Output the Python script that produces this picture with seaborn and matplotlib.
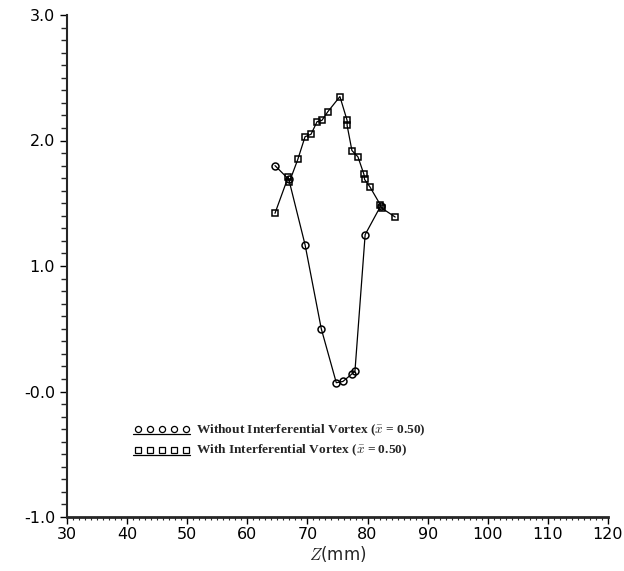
import numpy as np
import pandas as pd
import matplotlib
matplotlib.use("Agg")
import matplotlib.pyplot as plt
from matplotlib.lines import Line2D
from matplotlib.legend_handler import HandlerLine2D
import seaborn as sns

# --- data ---
z_without = [64.6, 66.9, 69.6, 72.3, 74.8, 75.9, 77.4, 77.9, 79.6, 82.2]
v_without = [1.80, 1.69, 1.17, 0.50, 0.07, 0.08, 0.14, 0.16, 1.25, 1.48]

z_with = [64.6, 66.8, 67.0, 68.4, 69.6, 70.6, 71.6, 72.4, 73.4, 75.4,
          76.6, 76.6, 77.4, 78.4, 79.4, 79.5, 80.4, 82.1, 82.4, 84.6]
v_with = [1.42, 1.71, 1.67, 1.85, 2.03, 2.05, 2.15, 2.16, 2.23, 2.35,
          2.16, 2.12, 1.92, 1.87, 1.73, 1.69, 1.63, 1.49, 1.46, 1.39]

label_without = r"Without Interferential Vortex ($\bar{x}$ = 0.50)"
label_with = r"With Interferential Vortex ($\bar{x}$ = 0.50)"

x_ticks = [30, 40, 50, 60, 70, 80, 90, 100, 110, 120]
y_ticks = [-1.0, 0.0, 1.0, 2.0, 3.0]
y_ticklabels = ["-1.0", "-0.0", "1.0", "2.0", "3.0"]

sns.set_style("ticks")
plt.rcParams["font.family"] = ["DejaVu Sans"]
plt.rcParams["mathtext.fontset"] = "cm"

fig = plt.figure(figsize=(6.24, 5.71), dpi=100)
ax = fig.add_axes([67 / 624, 1 - 517 / 571, 541 / 624, 502 / 571])

df_wo = pd.DataFrame({"z": z_without, "v": v_without})
df_w = pd.DataFrame({"z": z_with, "v": v_with})

common = dict(ax=ax, sort=False, estimator=None, color="black", linewidth=0.9,
              markersize=5, markerfacecolor="none", markeredgecolor="black",
              markeredgewidth=1.1)
sns.lineplot(data=df_wo, x="z", y="v", marker="o", **common)
sns.lineplot(data=df_w, x="z", y="v", marker="s", **common)

ax.set_xlim(30, 120)
ax.set_ylim(-1.0, 3.0)
ax.set_xticks(x_ticks)
ax.set_xticklabels([str(t) for t in x_ticks])
ax.set_yticks(y_ticks)
ax.set_yticklabels(y_ticklabels)
ax.set_xticks(np.arange(30, 121, 1), minor=True)
ax.set_yticks(np.arange(-1.0, 3.001, 0.1), minor=True)

for s in ["top", "right"]:
    ax.spines[s].set_visible(False)
ax.spines["left"].set_linewidth(1.5)
ax.spines["bottom"].set_linewidth(2.0)
ax.tick_params(axis="both", which="major", direction="out", length=5, width=1.0,
               labelsize=11.5, colors="black")
ax.tick_params(axis="y", which="minor", direction="out", length=4.5, width=1.0)
ax.tick_params(axis="x", which="minor", direction="out", length=2.5, width=0.8)
ax.tick_params(axis="x", which="major", pad=2)

ax.set_xlabel("$Z$(mm)", fontsize=12, labelpad=2)
ax.set_ylabel("")


class RowHandler(HandlerLine2D):
    def create_artists(self, legend, orig_handle, xdescent, ydescent, width,
                       height, fontsize, trans):
        xs = np.linspace(-xdescent + width * 0.08, -xdescent + width * 0.92, 5)
        ys = np.full(5, -ydescent + height * 0.45)
        m = Line2D(xs, ys, marker=orig_handle.get_marker(), markersize=4.4,
                   markerfacecolor="none", markeredgecolor="black",
                   markeredgewidth=0.9, linestyle="none")
        u = Line2D([-xdescent, -xdescent + width],
                   [-ydescent - 0.6, -ydescent - 0.6], color="black", lw=0.9)
        m.set_transform(trans)
        u.set_transform(trans)
        return [m, u]


h1 = Line2D([], [], marker="o", color="black")
h2 = Line2D([], [], marker="s", color="black")
leg = ax.legend([h1, h2], [label_without, label_with],
                handler_map={Line2D: RowHandler()},
                loc="upper left", bbox_to_anchor=(0.112, 0.198),
                frameon=False, handlelength=4.3, handletextpad=0.4,
                labelspacing=0.35, borderaxespad=0,
                prop={"family": "Liberation Serif", "weight": "bold", "size": 9.6})

fig.savefig("out.png", dpi=100)
